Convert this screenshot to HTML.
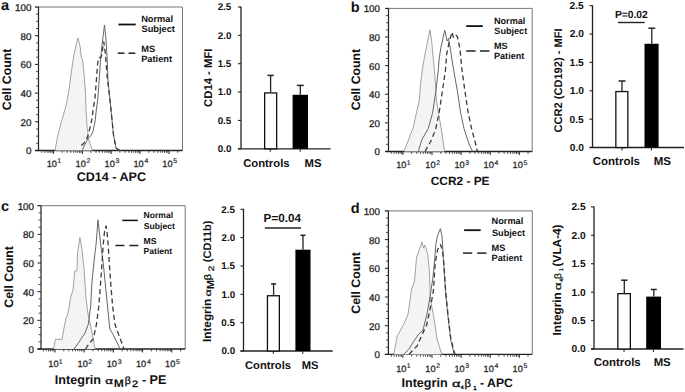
<!DOCTYPE html>
<html><head><meta charset="utf-8"><style>
html,body{margin:0;padding:0;background:#fff;width:685px;height:392px;overflow:hidden}
svg{display:block;font-family:"Liberation Sans",sans-serif;text-rendering:geometricPrecision}
</style></head><body>
<svg width="685" height="392" viewBox="0 0 685 392" font-family="Liberation Sans, sans-serif">
<rect width="685" height="392" fill="#fff"/>
<text x="1.07" y="9.70" font-size="14.6" font-weight="bold" fill="#111" >a</text>
<line x1="35.00" y1="7.00" x2="182.50" y2="7.00" stroke="#777" stroke-width="1" />
<line x1="182.50" y1="7.00" x2="182.50" y2="150.50" stroke="#777" stroke-width="1" />
<line x1="38.50" y1="7.00" x2="38.50" y2="151.10" stroke="#222" stroke-width="1.2" />
<line x1="35.00" y1="150.50" x2="182.50" y2="150.50" stroke="#222" stroke-width="1.3" />
<line x1="35.00" y1="150.50" x2="38.50" y2="150.50" stroke="#222" stroke-width="1" />
<line x1="36.10" y1="143.32" x2="38.50" y2="143.32" stroke="#333" stroke-width="0.9" />
<line x1="36.10" y1="136.15" x2="38.50" y2="136.15" stroke="#333" stroke-width="0.9" />
<line x1="36.10" y1="128.97" x2="38.50" y2="128.97" stroke="#333" stroke-width="0.9" />
<line x1="35.00" y1="121.80" x2="38.50" y2="121.80" stroke="#222" stroke-width="1" />
<line x1="36.10" y1="114.62" x2="38.50" y2="114.62" stroke="#333" stroke-width="0.9" />
<line x1="36.10" y1="107.45" x2="38.50" y2="107.45" stroke="#333" stroke-width="0.9" />
<line x1="36.10" y1="100.28" x2="38.50" y2="100.28" stroke="#333" stroke-width="0.9" />
<line x1="35.00" y1="93.10" x2="38.50" y2="93.10" stroke="#222" stroke-width="1" />
<line x1="36.10" y1="85.92" x2="38.50" y2="85.92" stroke="#333" stroke-width="0.9" />
<line x1="36.10" y1="78.75" x2="38.50" y2="78.75" stroke="#333" stroke-width="0.9" />
<line x1="36.10" y1="71.58" x2="38.50" y2="71.58" stroke="#333" stroke-width="0.9" />
<line x1="35.00" y1="64.40" x2="38.50" y2="64.40" stroke="#222" stroke-width="1" />
<line x1="36.10" y1="57.22" x2="38.50" y2="57.22" stroke="#333" stroke-width="0.9" />
<line x1="36.10" y1="50.05" x2="38.50" y2="50.05" stroke="#333" stroke-width="0.9" />
<line x1="36.10" y1="42.88" x2="38.50" y2="42.88" stroke="#333" stroke-width="0.9" />
<line x1="35.00" y1="35.70" x2="38.50" y2="35.70" stroke="#222" stroke-width="1" />
<line x1="36.10" y1="28.53" x2="38.50" y2="28.53" stroke="#333" stroke-width="0.9" />
<line x1="36.10" y1="21.35" x2="38.50" y2="21.35" stroke="#333" stroke-width="0.9" />
<line x1="36.10" y1="14.18" x2="38.50" y2="14.18" stroke="#333" stroke-width="0.9" />
<line x1="35.00" y1="7.00" x2="38.50" y2="7.00" stroke="#222" stroke-width="1" />
<text x="25.93" y="154.40" font-size="9.8" font-weight="normal" fill="#222" stroke="#2a2a2a" stroke-width="0.3">0</text>
<text x="20.48" y="125.70" font-size="9.8" font-weight="normal" fill="#222" stroke="#2a2a2a" stroke-width="0.3">20</text>
<text x="20.48" y="97.00" font-size="9.8" font-weight="normal" fill="#222" stroke="#2a2a2a" stroke-width="0.3">40</text>
<text x="20.48" y="68.30" font-size="9.8" font-weight="normal" fill="#222" stroke="#2a2a2a" stroke-width="0.3">60</text>
<text x="20.48" y="39.60" font-size="9.8" font-weight="normal" fill="#222" stroke="#2a2a2a" stroke-width="0.3">80</text>
<text x="15.03" y="10.90" font-size="9.8" font-weight="normal" fill="#222" stroke="#2a2a2a" stroke-width="0.3">100</text>
<line x1="41.90" y1="150.50" x2="41.90" y2="152.80" stroke="#333" stroke-width="0.9" />
<line x1="44.70" y1="150.50" x2="44.70" y2="152.80" stroke="#333" stroke-width="0.9" />
<line x1="46.99" y1="150.50" x2="46.99" y2="152.80" stroke="#333" stroke-width="0.9" />
<line x1="48.92" y1="150.50" x2="48.92" y2="152.80" stroke="#333" stroke-width="0.9" />
<line x1="50.60" y1="150.50" x2="50.60" y2="152.80" stroke="#333" stroke-width="0.9" />
<line x1="52.08" y1="150.50" x2="52.08" y2="152.80" stroke="#333" stroke-width="0.9" />
<line x1="53.40" y1="150.50" x2="53.40" y2="154.00" stroke="#222" stroke-width="1" />
<line x1="62.10" y1="150.50" x2="62.10" y2="152.80" stroke="#333" stroke-width="0.9" />
<line x1="67.19" y1="150.50" x2="67.19" y2="152.80" stroke="#333" stroke-width="0.9" />
<line x1="70.80" y1="150.50" x2="70.80" y2="152.80" stroke="#333" stroke-width="0.9" />
<line x1="73.60" y1="150.50" x2="73.60" y2="152.80" stroke="#333" stroke-width="0.9" />
<line x1="75.89" y1="150.50" x2="75.89" y2="152.80" stroke="#333" stroke-width="0.9" />
<line x1="77.82" y1="150.50" x2="77.82" y2="152.80" stroke="#333" stroke-width="0.9" />
<line x1="79.50" y1="150.50" x2="79.50" y2="152.80" stroke="#333" stroke-width="0.9" />
<line x1="80.98" y1="150.50" x2="80.98" y2="152.80" stroke="#333" stroke-width="0.9" />
<line x1="82.30" y1="150.50" x2="82.30" y2="154.00" stroke="#222" stroke-width="1" />
<line x1="91.00" y1="150.50" x2="91.00" y2="152.80" stroke="#333" stroke-width="0.9" />
<line x1="96.09" y1="150.50" x2="96.09" y2="152.80" stroke="#333" stroke-width="0.9" />
<line x1="99.70" y1="150.50" x2="99.70" y2="152.80" stroke="#333" stroke-width="0.9" />
<line x1="102.50" y1="150.50" x2="102.50" y2="152.80" stroke="#333" stroke-width="0.9" />
<line x1="104.79" y1="150.50" x2="104.79" y2="152.80" stroke="#333" stroke-width="0.9" />
<line x1="106.72" y1="150.50" x2="106.72" y2="152.80" stroke="#333" stroke-width="0.9" />
<line x1="108.40" y1="150.50" x2="108.40" y2="152.80" stroke="#333" stroke-width="0.9" />
<line x1="109.88" y1="150.50" x2="109.88" y2="152.80" stroke="#333" stroke-width="0.9" />
<line x1="111.20" y1="150.50" x2="111.20" y2="154.00" stroke="#222" stroke-width="1" />
<line x1="119.90" y1="150.50" x2="119.90" y2="152.80" stroke="#333" stroke-width="0.9" />
<line x1="124.99" y1="150.50" x2="124.99" y2="152.80" stroke="#333" stroke-width="0.9" />
<line x1="128.60" y1="150.50" x2="128.60" y2="152.80" stroke="#333" stroke-width="0.9" />
<line x1="131.40" y1="150.50" x2="131.40" y2="152.80" stroke="#333" stroke-width="0.9" />
<line x1="133.69" y1="150.50" x2="133.69" y2="152.80" stroke="#333" stroke-width="0.9" />
<line x1="135.62" y1="150.50" x2="135.62" y2="152.80" stroke="#333" stroke-width="0.9" />
<line x1="137.30" y1="150.50" x2="137.30" y2="152.80" stroke="#333" stroke-width="0.9" />
<line x1="138.78" y1="150.50" x2="138.78" y2="152.80" stroke="#333" stroke-width="0.9" />
<line x1="140.10" y1="150.50" x2="140.10" y2="154.00" stroke="#222" stroke-width="1" />
<line x1="148.80" y1="150.50" x2="148.80" y2="152.80" stroke="#333" stroke-width="0.9" />
<line x1="153.89" y1="150.50" x2="153.89" y2="152.80" stroke="#333" stroke-width="0.9" />
<line x1="157.50" y1="150.50" x2="157.50" y2="152.80" stroke="#333" stroke-width="0.9" />
<line x1="160.30" y1="150.50" x2="160.30" y2="152.80" stroke="#333" stroke-width="0.9" />
<line x1="162.59" y1="150.50" x2="162.59" y2="152.80" stroke="#333" stroke-width="0.9" />
<line x1="164.52" y1="150.50" x2="164.52" y2="152.80" stroke="#333" stroke-width="0.9" />
<line x1="166.20" y1="150.50" x2="166.20" y2="152.80" stroke="#333" stroke-width="0.9" />
<line x1="167.68" y1="150.50" x2="167.68" y2="152.80" stroke="#333" stroke-width="0.9" />
<line x1="169.00" y1="150.50" x2="169.00" y2="154.00" stroke="#222" stroke-width="1" />
<line x1="177.70" y1="150.50" x2="177.70" y2="152.80" stroke="#333" stroke-width="0.9" />
<text x="46.72" y="166.80" font-size="9.2" font-weight="normal" fill="#2a2a2a" stroke="#2a2a2a" stroke-width="0.3">10</text>
<text x="57.23" y="163.30" font-size="6.9" font-weight="normal" fill="#2a2a2a" stroke="#2a2a2a" stroke-width="0.2">1</text>
<text x="75.62" y="166.80" font-size="9.2" font-weight="normal" fill="#2a2a2a" stroke="#2a2a2a" stroke-width="0.3">10</text>
<text x="86.45" y="163.30" font-size="6.9" font-weight="normal" fill="#2a2a2a" stroke="#2a2a2a" stroke-width="0.2">2</text>
<text x="104.52" y="166.80" font-size="9.2" font-weight="normal" fill="#2a2a2a" stroke="#2a2a2a" stroke-width="0.3">10</text>
<text x="115.43" y="163.30" font-size="6.9" font-weight="normal" fill="#2a2a2a" stroke="#2a2a2a" stroke-width="0.2">3</text>
<text x="133.42" y="166.80" font-size="9.2" font-weight="normal" fill="#2a2a2a" stroke="#2a2a2a" stroke-width="0.3">10</text>
<text x="144.44" y="163.30" font-size="6.9" font-weight="normal" fill="#2a2a2a" stroke="#2a2a2a" stroke-width="0.2">4</text>
<text x="162.32" y="166.80" font-size="9.2" font-weight="normal" fill="#2a2a2a" stroke="#2a2a2a" stroke-width="0.3">10</text>
<text x="173.22" y="163.30" font-size="6.9" font-weight="normal" fill="#2a2a2a" stroke="#2a2a2a" stroke-width="0.2">5</text>
<polyline points="55.0,150.5 57.4,137.5 61.4,121.6 66.0,105.8 69.0,90.0 71.4,71.3 73.7,56.0 76.0,45.3 77.9,38.0 79.9,45.3 81.4,57.6 82.2,59.1 82.9,62.2 84.5,80.0 85.5,92.0 86.0,110.0 87.1,127.0 88.8,140.0 92.5,150.5" fill="#f4f4f4" stroke="#8c8c8c" stroke-width="0.8" stroke-linejoin="round" />
<polyline points="82.3,150.5 83.9,146.4 86.1,142.1 88.2,138.4 90.9,135.7 93.0,131.4 95.2,120.7 96.3,110.0 97.9,98.0 98.8,85.0 100.5,60.0 102.0,45.0 104.5,25.0 106.0,40.0 107.2,60.0 108.0,80.0 109.8,98.4 111.7,116.8 113.5,135.0 116.0,148.0 118.0,150.0 121.0,150.5" fill="none" stroke="#666" stroke-width="1.0" stroke-linejoin="round" />
<polyline points="81.3,145.4 83.9,143.2 86.1,140.6 88.2,134.7 90.9,124.0 92.4,116.8 93.0,110.0 95.0,98.0 96.4,80.0 97.5,65.0 98.4,58.0 101.4,57.0 102.5,50.0 103.8,41.8 105.5,55.0 107.0,75.0 108.2,85.0 109.8,98.4 111.7,116.8 113.5,135.0 116.0,148.0 120.0,150.5" fill="none" stroke="#3a3a3a" stroke-width="1.3" stroke-linejoin="round" stroke-dasharray="5,3.3"/>
<text x="141.18" y="21.90" font-size="9.25" font-weight="bold" fill="#111" >Normal</text>
<text x="141.53" y="32.20" font-size="9.25" font-weight="bold" fill="#111" >Subject</text>
<text x="141.18" y="51.70" font-size="9.25" font-weight="bold" fill="#111" >MS</text>
<text x="141.18" y="62.00" font-size="9.25" font-weight="bold" fill="#111" >Patient</text>
<line x1="118.40" y1="24.50" x2="135.70" y2="24.50" stroke="#111" stroke-width="1.8" />
<line x1="117.70" y1="53.20" x2="124.50" y2="53.20" stroke="#222" stroke-width="1.5" />
<line x1="128.50" y1="53.20" x2="135.30" y2="53.20" stroke="#222" stroke-width="1.5" />
<text transform="translate(11.00,79.30) rotate(-90)" x="-30.92" y="0" font-size="12.3" font-weight="bold" fill="#111">Cell Count</text>
<text x="76.69" y="181.20" font-size="12.55" font-weight="bold" fill="#111" >CD14 - APC</text>
<line x1="241.00" y1="6.50" x2="241.00" y2="148.80" stroke="#222" stroke-width="1.3" />
<line x1="238.00" y1="148.80" x2="330.60" y2="148.80" stroke="#222" stroke-width="1.3" />
<line x1="238.00" y1="148.80" x2="241.00" y2="148.80" stroke="#222" stroke-width="1.1" />
<text x="217.78" y="152.20" font-size="9.8" font-weight="bold" fill="#111" >0.0</text>
<line x1="238.00" y1="120.44" x2="241.00" y2="120.44" stroke="#222" stroke-width="1.1" />
<text x="217.65" y="123.84" font-size="9.8" font-weight="bold" fill="#111" >0.5</text>
<line x1="238.00" y1="92.08" x2="241.00" y2="92.08" stroke="#222" stroke-width="1.1" />
<text x="217.78" y="95.48" font-size="9.8" font-weight="bold" fill="#111" >1.0</text>
<line x1="238.00" y1="63.72" x2="241.00" y2="63.72" stroke="#222" stroke-width="1.1" />
<text x="217.65" y="67.12" font-size="9.8" font-weight="bold" fill="#111" >1.5</text>
<line x1="238.00" y1="35.36" x2="241.00" y2="35.36" stroke="#222" stroke-width="1.1" />
<text x="217.78" y="38.76" font-size="9.8" font-weight="bold" fill="#111" >2.0</text>
<line x1="238.00" y1="7.00" x2="241.00" y2="7.00" stroke="#222" stroke-width="1.1" />
<text x="217.65" y="10.40" font-size="9.8" font-weight="bold" fill="#111" >2.5</text>
<rect x="264.65" y="92.95" width="12.00" height="55.85" fill="#fff" stroke="#111" stroke-width="1.3"/>
<rect x="292.60" y="94.80" width="15.40" height="54.00" fill="#000"/>
<line x1="270.60" y1="92.30" x2="270.60" y2="75.40" stroke="#222" stroke-width="1.3" />
<line x1="267.50" y1="75.40" x2="273.70" y2="75.40" stroke="#222" stroke-width="1.5" />
<line x1="300.30" y1="94.80" x2="300.30" y2="85.40" stroke="#222" stroke-width="1.3" />
<line x1="296.85" y1="85.40" x2="303.75" y2="85.40" stroke="#222" stroke-width="1.5" />
<line x1="270.30" y1="148.80" x2="270.30" y2="151.80" stroke="#222" stroke-width="1" />
<line x1="300.20" y1="148.80" x2="300.20" y2="151.80" stroke="#222" stroke-width="1" />
<text x="243.14" y="166.60" font-size="11.3" font-weight="bold" fill="#111" >Controls</text>
<text x="304.54" y="166.60" font-size="11.3" font-weight="bold" fill="#111" >MS</text>
<text transform="translate(212.00,77.85) rotate(-90)" x="-29.05" y="0" font-size="11.3" font-weight="bold" fill="#111">CD14 - MFI</text>
<text x="350.74" y="12.00" font-size="14.6" font-weight="bold" fill="#111" >b</text>
<line x1="385.00" y1="8.40" x2="532.20" y2="8.40" stroke="#777" stroke-width="1" />
<line x1="532.20" y1="8.40" x2="532.20" y2="151.50" stroke="#777" stroke-width="1" />
<line x1="388.50" y1="8.40" x2="388.50" y2="152.10" stroke="#222" stroke-width="1.2" />
<line x1="385.00" y1="151.50" x2="532.20" y2="151.50" stroke="#222" stroke-width="1.3" />
<line x1="385.00" y1="151.50" x2="388.50" y2="151.50" stroke="#222" stroke-width="1" />
<line x1="386.10" y1="144.34" x2="388.50" y2="144.34" stroke="#333" stroke-width="0.9" />
<line x1="386.10" y1="137.19" x2="388.50" y2="137.19" stroke="#333" stroke-width="0.9" />
<line x1="386.10" y1="130.03" x2="388.50" y2="130.03" stroke="#333" stroke-width="0.9" />
<line x1="385.00" y1="122.88" x2="388.50" y2="122.88" stroke="#222" stroke-width="1" />
<line x1="386.10" y1="115.72" x2="388.50" y2="115.72" stroke="#333" stroke-width="0.9" />
<line x1="386.10" y1="108.57" x2="388.50" y2="108.57" stroke="#333" stroke-width="0.9" />
<line x1="386.10" y1="101.41" x2="388.50" y2="101.41" stroke="#333" stroke-width="0.9" />
<line x1="385.00" y1="94.26" x2="388.50" y2="94.26" stroke="#222" stroke-width="1" />
<line x1="386.10" y1="87.11" x2="388.50" y2="87.11" stroke="#333" stroke-width="0.9" />
<line x1="386.10" y1="79.95" x2="388.50" y2="79.95" stroke="#333" stroke-width="0.9" />
<line x1="386.10" y1="72.80" x2="388.50" y2="72.80" stroke="#333" stroke-width="0.9" />
<line x1="385.00" y1="65.64" x2="388.50" y2="65.64" stroke="#222" stroke-width="1" />
<line x1="386.10" y1="58.48" x2="388.50" y2="58.48" stroke="#333" stroke-width="0.9" />
<line x1="386.10" y1="51.33" x2="388.50" y2="51.33" stroke="#333" stroke-width="0.9" />
<line x1="386.10" y1="44.17" x2="388.50" y2="44.17" stroke="#333" stroke-width="0.9" />
<line x1="385.00" y1="37.02" x2="388.50" y2="37.02" stroke="#222" stroke-width="1" />
<line x1="386.10" y1="29.86" x2="388.50" y2="29.86" stroke="#333" stroke-width="0.9" />
<line x1="386.10" y1="22.71" x2="388.50" y2="22.71" stroke="#333" stroke-width="0.9" />
<line x1="386.10" y1="15.56" x2="388.50" y2="15.56" stroke="#333" stroke-width="0.9" />
<line x1="385.00" y1="8.40" x2="388.50" y2="8.40" stroke="#222" stroke-width="1" />
<text x="374.53" y="155.40" font-size="9.8" font-weight="normal" fill="#222" stroke="#2a2a2a" stroke-width="0.3">0</text>
<text x="369.08" y="126.78" font-size="9.8" font-weight="normal" fill="#222" stroke="#2a2a2a" stroke-width="0.3">20</text>
<text x="369.08" y="98.16" font-size="9.8" font-weight="normal" fill="#222" stroke="#2a2a2a" stroke-width="0.3">40</text>
<text x="369.08" y="69.54" font-size="9.8" font-weight="normal" fill="#222" stroke="#2a2a2a" stroke-width="0.3">60</text>
<text x="369.08" y="40.92" font-size="9.8" font-weight="normal" fill="#222" stroke="#2a2a2a" stroke-width="0.3">80</text>
<text x="363.63" y="12.30" font-size="9.8" font-weight="normal" fill="#222" stroke="#2a2a2a" stroke-width="0.3">100</text>
<line x1="391.32" y1="151.50" x2="391.32" y2="153.80" stroke="#333" stroke-width="0.9" />
<line x1="394.14" y1="151.50" x2="394.14" y2="153.80" stroke="#333" stroke-width="0.9" />
<line x1="396.44" y1="151.50" x2="396.44" y2="153.80" stroke="#333" stroke-width="0.9" />
<line x1="398.39" y1="151.50" x2="398.39" y2="153.80" stroke="#333" stroke-width="0.9" />
<line x1="400.08" y1="151.50" x2="400.08" y2="153.80" stroke="#333" stroke-width="0.9" />
<line x1="401.57" y1="151.50" x2="401.57" y2="153.80" stroke="#333" stroke-width="0.9" />
<line x1="402.90" y1="151.50" x2="402.90" y2="155.00" stroke="#222" stroke-width="1" />
<line x1="411.66" y1="151.50" x2="411.66" y2="153.80" stroke="#333" stroke-width="0.9" />
<line x1="416.78" y1="151.50" x2="416.78" y2="153.80" stroke="#333" stroke-width="0.9" />
<line x1="420.42" y1="151.50" x2="420.42" y2="153.80" stroke="#333" stroke-width="0.9" />
<line x1="423.24" y1="151.50" x2="423.24" y2="153.80" stroke="#333" stroke-width="0.9" />
<line x1="425.54" y1="151.50" x2="425.54" y2="153.80" stroke="#333" stroke-width="0.9" />
<line x1="427.49" y1="151.50" x2="427.49" y2="153.80" stroke="#333" stroke-width="0.9" />
<line x1="429.18" y1="151.50" x2="429.18" y2="153.80" stroke="#333" stroke-width="0.9" />
<line x1="430.67" y1="151.50" x2="430.67" y2="153.80" stroke="#333" stroke-width="0.9" />
<line x1="432.00" y1="151.50" x2="432.00" y2="155.00" stroke="#222" stroke-width="1" />
<line x1="440.76" y1="151.50" x2="440.76" y2="153.80" stroke="#333" stroke-width="0.9" />
<line x1="445.88" y1="151.50" x2="445.88" y2="153.80" stroke="#333" stroke-width="0.9" />
<line x1="449.52" y1="151.50" x2="449.52" y2="153.80" stroke="#333" stroke-width="0.9" />
<line x1="452.34" y1="151.50" x2="452.34" y2="153.80" stroke="#333" stroke-width="0.9" />
<line x1="454.64" y1="151.50" x2="454.64" y2="153.80" stroke="#333" stroke-width="0.9" />
<line x1="456.59" y1="151.50" x2="456.59" y2="153.80" stroke="#333" stroke-width="0.9" />
<line x1="458.28" y1="151.50" x2="458.28" y2="153.80" stroke="#333" stroke-width="0.9" />
<line x1="459.77" y1="151.50" x2="459.77" y2="153.80" stroke="#333" stroke-width="0.9" />
<line x1="461.10" y1="151.50" x2="461.10" y2="155.00" stroke="#222" stroke-width="1" />
<line x1="469.86" y1="151.50" x2="469.86" y2="153.80" stroke="#333" stroke-width="0.9" />
<line x1="474.98" y1="151.50" x2="474.98" y2="153.80" stroke="#333" stroke-width="0.9" />
<line x1="478.62" y1="151.50" x2="478.62" y2="153.80" stroke="#333" stroke-width="0.9" />
<line x1="481.44" y1="151.50" x2="481.44" y2="153.80" stroke="#333" stroke-width="0.9" />
<line x1="483.74" y1="151.50" x2="483.74" y2="153.80" stroke="#333" stroke-width="0.9" />
<line x1="485.69" y1="151.50" x2="485.69" y2="153.80" stroke="#333" stroke-width="0.9" />
<line x1="487.38" y1="151.50" x2="487.38" y2="153.80" stroke="#333" stroke-width="0.9" />
<line x1="488.87" y1="151.50" x2="488.87" y2="153.80" stroke="#333" stroke-width="0.9" />
<line x1="490.20" y1="151.50" x2="490.20" y2="155.00" stroke="#222" stroke-width="1" />
<line x1="498.96" y1="151.50" x2="498.96" y2="153.80" stroke="#333" stroke-width="0.9" />
<line x1="504.08" y1="151.50" x2="504.08" y2="153.80" stroke="#333" stroke-width="0.9" />
<line x1="507.72" y1="151.50" x2="507.72" y2="153.80" stroke="#333" stroke-width="0.9" />
<line x1="510.54" y1="151.50" x2="510.54" y2="153.80" stroke="#333" stroke-width="0.9" />
<line x1="512.84" y1="151.50" x2="512.84" y2="153.80" stroke="#333" stroke-width="0.9" />
<line x1="514.79" y1="151.50" x2="514.79" y2="153.80" stroke="#333" stroke-width="0.9" />
<line x1="516.48" y1="151.50" x2="516.48" y2="153.80" stroke="#333" stroke-width="0.9" />
<line x1="517.97" y1="151.50" x2="517.97" y2="153.80" stroke="#333" stroke-width="0.9" />
<line x1="519.30" y1="151.50" x2="519.30" y2="155.00" stroke="#222" stroke-width="1" />
<line x1="528.06" y1="151.50" x2="528.06" y2="153.80" stroke="#333" stroke-width="0.9" />
<text x="396.22" y="168.00" font-size="9.2" font-weight="normal" fill="#2a2a2a" stroke="#2a2a2a" stroke-width="0.3">10</text>
<text x="406.73" y="164.50" font-size="6.9" font-weight="normal" fill="#2a2a2a" stroke="#2a2a2a" stroke-width="0.2">1</text>
<text x="425.32" y="168.00" font-size="9.2" font-weight="normal" fill="#2a2a2a" stroke="#2a2a2a" stroke-width="0.3">10</text>
<text x="436.15" y="164.50" font-size="6.9" font-weight="normal" fill="#2a2a2a" stroke="#2a2a2a" stroke-width="0.2">2</text>
<text x="454.42" y="168.00" font-size="9.2" font-weight="normal" fill="#2a2a2a" stroke="#2a2a2a" stroke-width="0.3">10</text>
<text x="465.33" y="164.50" font-size="6.9" font-weight="normal" fill="#2a2a2a" stroke="#2a2a2a" stroke-width="0.2">3</text>
<text x="483.52" y="168.00" font-size="9.2" font-weight="normal" fill="#2a2a2a" stroke="#2a2a2a" stroke-width="0.3">10</text>
<text x="494.54" y="164.50" font-size="6.9" font-weight="normal" fill="#2a2a2a" stroke="#2a2a2a" stroke-width="0.2">4</text>
<text x="512.62" y="168.00" font-size="9.2" font-weight="normal" fill="#2a2a2a" stroke="#2a2a2a" stroke-width="0.3">10</text>
<text x="523.52" y="164.50" font-size="6.9" font-weight="normal" fill="#2a2a2a" stroke="#2a2a2a" stroke-width="0.2">5</text>
<polyline points="404.0,151.5 406.5,145.0 408.5,140.0 411.0,133.0 413.0,128.6 416.3,113.4 419.4,100.0 420.4,85.3 422.4,69.0 424.5,56.7 426.5,46.5 430.0,29.8 431.6,40.4 433.3,58.8 434.7,73.0 435.5,85.0 436.3,100.0 438.6,113.4 441.2,128.6 444.5,151.5" fill="#f4f4f4" stroke="#8c8c8c" stroke-width="0.8" stroke-linejoin="round" />
<polyline points="418.4,151.5 421.7,140.0 428.2,128.6 432.5,113.4 435.8,91.7 438.3,70.0 439.2,58.3 440.8,48.0 442.8,39.0 444.7,30.2 447.2,41.0 448.5,38.5 450.4,49.3 452.3,62.0 454.0,72.0 457.5,91.7 460.7,113.4 464.0,128.6 469.4,145.0 472.7,151.5" fill="none" stroke="#666" stroke-width="1.0" stroke-linejoin="round" />
<polyline points="425.0,151.5 431.5,140.0 435.8,128.6 439.0,113.4 442.3,91.7 445.5,70.0 446.6,54.4 449.0,43.0 452.0,32.0 453.6,37.9 456.0,35.3 457.4,36.6 460.0,49.3 462.0,70.0 465.0,91.7 468.3,113.4 471.6,128.6 475.9,145.0 477.4,151.5" fill="none" stroke="#3a3a3a" stroke-width="1.3" stroke-linejoin="round" stroke-dasharray="5,3.3"/>
<text x="493.99" y="24.00" font-size="9.1" font-weight="bold" fill="#111" >Normal</text>
<text x="494.34" y="34.10" font-size="9.1" font-weight="bold" fill="#111" >Subject</text>
<text x="493.99" y="49.00" font-size="9.1" font-weight="bold" fill="#111" >MS</text>
<text x="493.99" y="59.40" font-size="9.1" font-weight="bold" fill="#111" >Patient</text>
<line x1="466.20" y1="26.10" x2="482.80" y2="26.10" stroke="#111" stroke-width="1.8" />
<line x1="466.20" y1="51.00" x2="475.65" y2="51.00" stroke="#222" stroke-width="1.5" />
<line x1="479.95" y1="51.00" x2="489.40" y2="51.00" stroke="#222" stroke-width="1.5" />
<text transform="translate(359.60,79.40) rotate(-90)" x="-30.92" y="0" font-size="12.3" font-weight="bold" fill="#111">Cell Count</text>
<text x="430.71" y="184.80" font-size="11.9" font-weight="bold" fill="#111" >CCR2 - PE</text>
<line x1="592.50" y1="5.20" x2="592.50" y2="147.50" stroke="#222" stroke-width="1.3" />
<line x1="589.50" y1="147.50" x2="684.00" y2="147.50" stroke="#222" stroke-width="1.3" />
<line x1="589.50" y1="147.50" x2="592.50" y2="147.50" stroke="#222" stroke-width="1.1" />
<text x="569.74" y="150.90" font-size="10.2" font-weight="bold" fill="#111" >0.0</text>
<line x1="589.50" y1="119.14" x2="592.50" y2="119.14" stroke="#222" stroke-width="1.1" />
<text x="569.60" y="122.54" font-size="10.2" font-weight="bold" fill="#111" >0.5</text>
<line x1="589.50" y1="90.78" x2="592.50" y2="90.78" stroke="#222" stroke-width="1.1" />
<text x="569.74" y="94.18" font-size="10.2" font-weight="bold" fill="#111" >1.0</text>
<line x1="589.50" y1="62.42" x2="592.50" y2="62.42" stroke="#222" stroke-width="1.1" />
<text x="569.60" y="65.82" font-size="10.2" font-weight="bold" fill="#111" >1.5</text>
<line x1="589.50" y1="34.06" x2="592.50" y2="34.06" stroke="#222" stroke-width="1.1" />
<text x="569.74" y="37.46" font-size="10.2" font-weight="bold" fill="#111" >2.0</text>
<line x1="589.50" y1="5.70" x2="592.50" y2="5.70" stroke="#222" stroke-width="1.1" />
<text x="569.60" y="9.10" font-size="10.2" font-weight="bold" fill="#111" >2.5</text>
<rect x="615.85" y="91.55" width="12.00" height="55.95" fill="#fff" stroke="#111" stroke-width="1.3"/>
<rect x="644.50" y="43.75" width="14.10" height="103.75" fill="#000"/>
<line x1="622.00" y1="90.90" x2="622.00" y2="81.00" stroke="#222" stroke-width="1.3" />
<line x1="618.50" y1="81.00" x2="625.50" y2="81.00" stroke="#222" stroke-width="1.5" />
<line x1="651.80" y1="43.75" x2="651.80" y2="28.20" stroke="#222" stroke-width="1.3" />
<line x1="648.40" y1="28.20" x2="655.20" y2="28.20" stroke="#222" stroke-width="1.5" />
<line x1="622.00" y1="147.50" x2="622.00" y2="150.50" stroke="#222" stroke-width="1" />
<line x1="651.40" y1="147.50" x2="651.40" y2="150.50" stroke="#222" stroke-width="1" />
<text x="592.73" y="164.80" font-size="11.5" font-weight="bold" fill="#111" >Controls</text>
<text x="653.63" y="164.80" font-size="11.5" font-weight="bold" fill="#111" >MS</text>
<text transform="translate(561.70,80.60) rotate(-90)" x="-51.97" y="0" font-size="11.1" font-weight="bold" fill="#111">CCR2 (CD192) - MFI</text>
<text x="614.91" y="17.80" font-size="10.3" font-weight="bold" fill="#111" >P=0.02</text>
<line x1="617.90" y1="22.50" x2="644.60" y2="22.50" stroke="#222" stroke-width="1.4" />
<text x="1.03" y="210.50" font-size="14.6" font-weight="bold" fill="#111" >c</text>
<line x1="37.50" y1="205.70" x2="185.20" y2="205.70" stroke="#777" stroke-width="1" />
<line x1="185.20" y1="205.70" x2="185.20" y2="349.00" stroke="#777" stroke-width="1" />
<line x1="41.00" y1="205.70" x2="41.00" y2="349.60" stroke="#222" stroke-width="1.2" />
<line x1="37.50" y1="349.00" x2="185.20" y2="349.00" stroke="#222" stroke-width="1.3" />
<line x1="37.50" y1="349.00" x2="41.00" y2="349.00" stroke="#222" stroke-width="1" />
<line x1="38.60" y1="341.83" x2="41.00" y2="341.83" stroke="#333" stroke-width="0.9" />
<line x1="38.60" y1="334.67" x2="41.00" y2="334.67" stroke="#333" stroke-width="0.9" />
<line x1="38.60" y1="327.50" x2="41.00" y2="327.50" stroke="#333" stroke-width="0.9" />
<line x1="37.50" y1="320.34" x2="41.00" y2="320.34" stroke="#222" stroke-width="1" />
<line x1="38.60" y1="313.18" x2="41.00" y2="313.18" stroke="#333" stroke-width="0.9" />
<line x1="38.60" y1="306.01" x2="41.00" y2="306.01" stroke="#333" stroke-width="0.9" />
<line x1="38.60" y1="298.85" x2="41.00" y2="298.85" stroke="#333" stroke-width="0.9" />
<line x1="37.50" y1="291.68" x2="41.00" y2="291.68" stroke="#222" stroke-width="1" />
<line x1="38.60" y1="284.51" x2="41.00" y2="284.51" stroke="#333" stroke-width="0.9" />
<line x1="38.60" y1="277.35" x2="41.00" y2="277.35" stroke="#333" stroke-width="0.9" />
<line x1="38.60" y1="270.19" x2="41.00" y2="270.19" stroke="#333" stroke-width="0.9" />
<line x1="37.50" y1="263.02" x2="41.00" y2="263.02" stroke="#222" stroke-width="1" />
<line x1="38.60" y1="255.86" x2="41.00" y2="255.86" stroke="#333" stroke-width="0.9" />
<line x1="38.60" y1="248.69" x2="41.00" y2="248.69" stroke="#333" stroke-width="0.9" />
<line x1="38.60" y1="241.53" x2="41.00" y2="241.53" stroke="#333" stroke-width="0.9" />
<line x1="37.50" y1="234.36" x2="41.00" y2="234.36" stroke="#222" stroke-width="1" />
<line x1="38.60" y1="227.19" x2="41.00" y2="227.19" stroke="#333" stroke-width="0.9" />
<line x1="38.60" y1="220.03" x2="41.00" y2="220.03" stroke="#333" stroke-width="0.9" />
<line x1="38.60" y1="212.86" x2="41.00" y2="212.86" stroke="#333" stroke-width="0.9" />
<line x1="37.50" y1="205.70" x2="41.00" y2="205.70" stroke="#222" stroke-width="1" />
<text x="28.53" y="352.90" font-size="9.8" font-weight="normal" fill="#222" stroke="#2a2a2a" stroke-width="0.3">0</text>
<text x="23.08" y="324.24" font-size="9.8" font-weight="normal" fill="#222" stroke="#2a2a2a" stroke-width="0.3">20</text>
<text x="23.08" y="295.58" font-size="9.8" font-weight="normal" fill="#222" stroke="#2a2a2a" stroke-width="0.3">40</text>
<text x="23.08" y="266.92" font-size="9.8" font-weight="normal" fill="#222" stroke="#2a2a2a" stroke-width="0.3">60</text>
<text x="23.08" y="238.26" font-size="9.8" font-weight="normal" fill="#222" stroke="#2a2a2a" stroke-width="0.3">80</text>
<text x="17.63" y="209.60" font-size="9.8" font-weight="normal" fill="#222" stroke="#2a2a2a" stroke-width="0.3">100</text>
<line x1="43.38" y1="349.00" x2="43.38" y2="351.30" stroke="#333" stroke-width="0.9" />
<line x1="46.21" y1="349.00" x2="46.21" y2="351.30" stroke="#333" stroke-width="0.9" />
<line x1="48.52" y1="349.00" x2="48.52" y2="351.30" stroke="#333" stroke-width="0.9" />
<line x1="50.48" y1="349.00" x2="50.48" y2="351.30" stroke="#333" stroke-width="0.9" />
<line x1="52.17" y1="349.00" x2="52.17" y2="351.30" stroke="#333" stroke-width="0.9" />
<line x1="53.66" y1="349.00" x2="53.66" y2="351.30" stroke="#333" stroke-width="0.9" />
<line x1="55.00" y1="349.00" x2="55.00" y2="352.50" stroke="#222" stroke-width="1" />
<line x1="63.79" y1="349.00" x2="63.79" y2="351.30" stroke="#333" stroke-width="0.9" />
<line x1="68.93" y1="349.00" x2="68.93" y2="351.30" stroke="#333" stroke-width="0.9" />
<line x1="72.58" y1="349.00" x2="72.58" y2="351.30" stroke="#333" stroke-width="0.9" />
<line x1="75.41" y1="349.00" x2="75.41" y2="351.30" stroke="#333" stroke-width="0.9" />
<line x1="77.72" y1="349.00" x2="77.72" y2="351.30" stroke="#333" stroke-width="0.9" />
<line x1="79.68" y1="349.00" x2="79.68" y2="351.30" stroke="#333" stroke-width="0.9" />
<line x1="81.37" y1="349.00" x2="81.37" y2="351.30" stroke="#333" stroke-width="0.9" />
<line x1="82.86" y1="349.00" x2="82.86" y2="351.30" stroke="#333" stroke-width="0.9" />
<line x1="84.20" y1="349.00" x2="84.20" y2="352.50" stroke="#222" stroke-width="1" />
<line x1="92.99" y1="349.00" x2="92.99" y2="351.30" stroke="#333" stroke-width="0.9" />
<line x1="98.13" y1="349.00" x2="98.13" y2="351.30" stroke="#333" stroke-width="0.9" />
<line x1="101.78" y1="349.00" x2="101.78" y2="351.30" stroke="#333" stroke-width="0.9" />
<line x1="104.61" y1="349.00" x2="104.61" y2="351.30" stroke="#333" stroke-width="0.9" />
<line x1="106.92" y1="349.00" x2="106.92" y2="351.30" stroke="#333" stroke-width="0.9" />
<line x1="108.88" y1="349.00" x2="108.88" y2="351.30" stroke="#333" stroke-width="0.9" />
<line x1="110.57" y1="349.00" x2="110.57" y2="351.30" stroke="#333" stroke-width="0.9" />
<line x1="112.06" y1="349.00" x2="112.06" y2="351.30" stroke="#333" stroke-width="0.9" />
<line x1="113.40" y1="349.00" x2="113.40" y2="352.50" stroke="#222" stroke-width="1" />
<line x1="122.19" y1="349.00" x2="122.19" y2="351.30" stroke="#333" stroke-width="0.9" />
<line x1="127.33" y1="349.00" x2="127.33" y2="351.30" stroke="#333" stroke-width="0.9" />
<line x1="130.98" y1="349.00" x2="130.98" y2="351.30" stroke="#333" stroke-width="0.9" />
<line x1="133.81" y1="349.00" x2="133.81" y2="351.30" stroke="#333" stroke-width="0.9" />
<line x1="136.12" y1="349.00" x2="136.12" y2="351.30" stroke="#333" stroke-width="0.9" />
<line x1="138.08" y1="349.00" x2="138.08" y2="351.30" stroke="#333" stroke-width="0.9" />
<line x1="139.77" y1="349.00" x2="139.77" y2="351.30" stroke="#333" stroke-width="0.9" />
<line x1="141.26" y1="349.00" x2="141.26" y2="351.30" stroke="#333" stroke-width="0.9" />
<line x1="142.60" y1="349.00" x2="142.60" y2="352.50" stroke="#222" stroke-width="1" />
<line x1="151.39" y1="349.00" x2="151.39" y2="351.30" stroke="#333" stroke-width="0.9" />
<line x1="156.53" y1="349.00" x2="156.53" y2="351.30" stroke="#333" stroke-width="0.9" />
<line x1="160.18" y1="349.00" x2="160.18" y2="351.30" stroke="#333" stroke-width="0.9" />
<line x1="163.01" y1="349.00" x2="163.01" y2="351.30" stroke="#333" stroke-width="0.9" />
<line x1="165.32" y1="349.00" x2="165.32" y2="351.30" stroke="#333" stroke-width="0.9" />
<line x1="167.28" y1="349.00" x2="167.28" y2="351.30" stroke="#333" stroke-width="0.9" />
<line x1="168.97" y1="349.00" x2="168.97" y2="351.30" stroke="#333" stroke-width="0.9" />
<line x1="170.46" y1="349.00" x2="170.46" y2="351.30" stroke="#333" stroke-width="0.9" />
<line x1="171.80" y1="349.00" x2="171.80" y2="352.50" stroke="#222" stroke-width="1" />
<line x1="180.59" y1="349.00" x2="180.59" y2="351.30" stroke="#333" stroke-width="0.9" />
<text x="48.32" y="367.30" font-size="9.2" font-weight="normal" fill="#2a2a2a" stroke="#2a2a2a" stroke-width="0.3">10</text>
<text x="58.83" y="363.80" font-size="6.9" font-weight="normal" fill="#2a2a2a" stroke="#2a2a2a" stroke-width="0.2">1</text>
<text x="77.52" y="367.30" font-size="9.2" font-weight="normal" fill="#2a2a2a" stroke="#2a2a2a" stroke-width="0.3">10</text>
<text x="88.35" y="363.80" font-size="6.9" font-weight="normal" fill="#2a2a2a" stroke="#2a2a2a" stroke-width="0.2">2</text>
<text x="106.72" y="367.30" font-size="9.2" font-weight="normal" fill="#2a2a2a" stroke="#2a2a2a" stroke-width="0.3">10</text>
<text x="117.63" y="363.80" font-size="6.9" font-weight="normal" fill="#2a2a2a" stroke="#2a2a2a" stroke-width="0.2">3</text>
<text x="135.92" y="367.30" font-size="9.2" font-weight="normal" fill="#2a2a2a" stroke="#2a2a2a" stroke-width="0.3">10</text>
<text x="146.94" y="363.80" font-size="6.9" font-weight="normal" fill="#2a2a2a" stroke="#2a2a2a" stroke-width="0.2">4</text>
<text x="165.12" y="367.30" font-size="9.2" font-weight="normal" fill="#2a2a2a" stroke="#2a2a2a" stroke-width="0.3">10</text>
<text x="176.02" y="363.80" font-size="6.9" font-weight="normal" fill="#2a2a2a" stroke="#2a2a2a" stroke-width="0.2">5</text>
<polyline points="53.5,349.0 55.4,339.3 62.1,339.3 64.0,328.0 66.0,318.0 67.5,315.0 69.5,305.0 70.3,298.4 73.0,290.0 74.0,280.0 74.6,271.3 76.9,270.6 77.5,253.0 79.9,237.4 81.8,248.4 84.0,268.3 84.8,280.0 86.0,298.4 88.2,315.0 91.5,330.0 95.1,349.0" fill="#f4f4f4" stroke="#8c8c8c" stroke-width="0.8" stroke-linejoin="round" />
<polyline points="74.0,349.0 79.0,342.0 85.0,333.0 88.4,324.0 90.7,306.0 91.9,283.0 94.2,260.0 96.0,244.8 98.0,219.8 100.7,244.8 102.9,260.0 105.2,283.0 107.5,306.0 109.8,329.0 112.6,333.5 117.1,342.7 120.0,349.0" fill="none" stroke="#666" stroke-width="1.0" stroke-linejoin="round" />
<polyline points="85.5,349.0 88.6,344.3 93.3,338.8 96.5,324.0 98.8,306.0 100.6,283.0 102.2,260.0 103.2,245.0 104.5,232.0 106.0,226.0 107.0,232.0 108.2,245.0 109.1,260.0 110.7,283.0 112.6,306.0 114.9,324.0 118.3,333.5 121.7,342.7 124.0,349.0" fill="none" stroke="#3a3a3a" stroke-width="1.3" stroke-linejoin="round" stroke-dasharray="5,3.3"/>
<text x="143.52" y="218.40" font-size="8.6" font-weight="bold" fill="#111" >Normal</text>
<text x="143.85" y="228.80" font-size="8.6" font-weight="bold" fill="#111" >Subject</text>
<text x="143.52" y="243.60" font-size="8.6" font-weight="bold" fill="#111" >MS</text>
<text x="143.52" y="253.90" font-size="8.6" font-weight="bold" fill="#111" >Patient</text>
<line x1="122.30" y1="220.40" x2="137.90" y2="220.40" stroke="#111" stroke-width="1.5" />
<line x1="115.40" y1="245.50" x2="124.35" y2="245.50" stroke="#222" stroke-width="1.5" />
<line x1="129.35" y1="245.50" x2="138.30" y2="245.50" stroke="#222" stroke-width="1.5" />
<text transform="translate(13.10,276.80) rotate(-90)" x="-30.92" y="0" font-size="12.3" font-weight="bold" fill="#111">Cell Count</text>
<line x1="243.50" y1="208.80" x2="243.50" y2="351.00" stroke="#222" stroke-width="1.3" />
<line x1="240.50" y1="351.00" x2="332.70" y2="351.00" stroke="#222" stroke-width="1.3" />
<line x1="240.50" y1="351.00" x2="243.50" y2="351.00" stroke="#222" stroke-width="1.1" />
<text x="221.48" y="354.40" font-size="9.8" font-weight="bold" fill="#111" >0.0</text>
<line x1="240.50" y1="322.66" x2="243.50" y2="322.66" stroke="#222" stroke-width="1.1" />
<text x="221.35" y="326.06" font-size="9.8" font-weight="bold" fill="#111" >0.5</text>
<line x1="240.50" y1="294.32" x2="243.50" y2="294.32" stroke="#222" stroke-width="1.1" />
<text x="221.48" y="297.72" font-size="9.8" font-weight="bold" fill="#111" >1.0</text>
<line x1="240.50" y1="265.98" x2="243.50" y2="265.98" stroke="#222" stroke-width="1.1" />
<text x="221.35" y="269.38" font-size="9.8" font-weight="bold" fill="#111" >1.5</text>
<line x1="240.50" y1="237.64" x2="243.50" y2="237.64" stroke="#222" stroke-width="1.1" />
<text x="221.48" y="241.04" font-size="9.8" font-weight="bold" fill="#111" >2.0</text>
<line x1="240.50" y1="209.30" x2="243.50" y2="209.30" stroke="#222" stroke-width="1.1" />
<text x="221.35" y="212.70" font-size="9.8" font-weight="bold" fill="#111" >2.5</text>
<rect x="267.45" y="295.75" width="11.90" height="55.25" fill="#fff" stroke="#111" stroke-width="1.3"/>
<rect x="295.40" y="249.70" width="15.10" height="101.30" fill="#000"/>
<line x1="273.60" y1="295.10" x2="273.60" y2="283.90" stroke="#222" stroke-width="1.3" />
<line x1="271.05" y1="283.90" x2="276.15" y2="283.90" stroke="#222" stroke-width="1.5" />
<line x1="303.00" y1="249.70" x2="303.00" y2="235.30" stroke="#222" stroke-width="1.3" />
<line x1="300.50" y1="235.30" x2="305.50" y2="235.30" stroke="#222" stroke-width="1.5" />
<line x1="273.30" y1="351.00" x2="273.30" y2="354.00" stroke="#222" stroke-width="1" />
<line x1="302.80" y1="351.00" x2="302.80" y2="354.00" stroke="#222" stroke-width="1" />
<text x="245.04" y="369.40" font-size="11.2" font-weight="bold" fill="#111" >Controls</text>
<text x="301.65" y="369.40" font-size="11.2" font-weight="bold" fill="#111" >MS</text>
<text x="263.62" y="222.20" font-size="11.7" font-weight="bold" fill="#111" >P=0.04</text>
<line x1="264.80" y1="228.00" x2="301.00" y2="228.00" stroke="#222" stroke-width="1.4" />
<text x="350.70" y="213.10" font-size="14.6" font-weight="bold" fill="#111" >d</text>
<line x1="384.90" y1="210.90" x2="532.30" y2="210.90" stroke="#777" stroke-width="1" />
<line x1="532.30" y1="210.90" x2="532.30" y2="354.40" stroke="#777" stroke-width="1" />
<line x1="388.40" y1="210.90" x2="388.40" y2="355.00" stroke="#222" stroke-width="1.2" />
<line x1="384.90" y1="354.40" x2="532.30" y2="354.40" stroke="#222" stroke-width="1.3" />
<line x1="384.90" y1="354.40" x2="388.40" y2="354.40" stroke="#222" stroke-width="1" />
<line x1="386.00" y1="347.22" x2="388.40" y2="347.22" stroke="#333" stroke-width="0.9" />
<line x1="386.00" y1="340.05" x2="388.40" y2="340.05" stroke="#333" stroke-width="0.9" />
<line x1="386.00" y1="332.88" x2="388.40" y2="332.88" stroke="#333" stroke-width="0.9" />
<line x1="384.90" y1="325.70" x2="388.40" y2="325.70" stroke="#222" stroke-width="1" />
<line x1="386.00" y1="318.52" x2="388.40" y2="318.52" stroke="#333" stroke-width="0.9" />
<line x1="386.00" y1="311.35" x2="388.40" y2="311.35" stroke="#333" stroke-width="0.9" />
<line x1="386.00" y1="304.17" x2="388.40" y2="304.17" stroke="#333" stroke-width="0.9" />
<line x1="384.90" y1="297.00" x2="388.40" y2="297.00" stroke="#222" stroke-width="1" />
<line x1="386.00" y1="289.82" x2="388.40" y2="289.82" stroke="#333" stroke-width="0.9" />
<line x1="386.00" y1="282.65" x2="388.40" y2="282.65" stroke="#333" stroke-width="0.9" />
<line x1="386.00" y1="275.48" x2="388.40" y2="275.48" stroke="#333" stroke-width="0.9" />
<line x1="384.90" y1="268.30" x2="388.40" y2="268.30" stroke="#222" stroke-width="1" />
<line x1="386.00" y1="261.12" x2="388.40" y2="261.12" stroke="#333" stroke-width="0.9" />
<line x1="386.00" y1="253.95" x2="388.40" y2="253.95" stroke="#333" stroke-width="0.9" />
<line x1="386.00" y1="246.77" x2="388.40" y2="246.77" stroke="#333" stroke-width="0.9" />
<line x1="384.90" y1="239.60" x2="388.40" y2="239.60" stroke="#222" stroke-width="1" />
<line x1="386.00" y1="232.43" x2="388.40" y2="232.43" stroke="#333" stroke-width="0.9" />
<line x1="386.00" y1="225.25" x2="388.40" y2="225.25" stroke="#333" stroke-width="0.9" />
<line x1="386.00" y1="218.07" x2="388.40" y2="218.07" stroke="#333" stroke-width="0.9" />
<line x1="384.90" y1="210.90" x2="388.40" y2="210.90" stroke="#222" stroke-width="1" />
<text x="374.53" y="358.30" font-size="9.8" font-weight="normal" fill="#222" stroke="#2a2a2a" stroke-width="0.3">0</text>
<text x="369.08" y="329.60" font-size="9.8" font-weight="normal" fill="#222" stroke="#2a2a2a" stroke-width="0.3">20</text>
<text x="369.08" y="300.90" font-size="9.8" font-weight="normal" fill="#222" stroke="#2a2a2a" stroke-width="0.3">40</text>
<text x="369.08" y="272.20" font-size="9.8" font-weight="normal" fill="#222" stroke="#2a2a2a" stroke-width="0.3">60</text>
<text x="369.08" y="243.50" font-size="9.8" font-weight="normal" fill="#222" stroke="#2a2a2a" stroke-width="0.3">80</text>
<text x="363.63" y="214.80" font-size="9.8" font-weight="normal" fill="#222" stroke="#2a2a2a" stroke-width="0.3">100</text>
<line x1="391.32" y1="354.40" x2="391.32" y2="356.70" stroke="#333" stroke-width="0.9" />
<line x1="394.14" y1="354.40" x2="394.14" y2="356.70" stroke="#333" stroke-width="0.9" />
<line x1="396.44" y1="354.40" x2="396.44" y2="356.70" stroke="#333" stroke-width="0.9" />
<line x1="398.39" y1="354.40" x2="398.39" y2="356.70" stroke="#333" stroke-width="0.9" />
<line x1="400.08" y1="354.40" x2="400.08" y2="356.70" stroke="#333" stroke-width="0.9" />
<line x1="401.57" y1="354.40" x2="401.57" y2="356.70" stroke="#333" stroke-width="0.9" />
<line x1="402.90" y1="354.40" x2="402.90" y2="357.90" stroke="#222" stroke-width="1" />
<line x1="411.66" y1="354.40" x2="411.66" y2="356.70" stroke="#333" stroke-width="0.9" />
<line x1="416.78" y1="354.40" x2="416.78" y2="356.70" stroke="#333" stroke-width="0.9" />
<line x1="420.42" y1="354.40" x2="420.42" y2="356.70" stroke="#333" stroke-width="0.9" />
<line x1="423.24" y1="354.40" x2="423.24" y2="356.70" stroke="#333" stroke-width="0.9" />
<line x1="425.54" y1="354.40" x2="425.54" y2="356.70" stroke="#333" stroke-width="0.9" />
<line x1="427.49" y1="354.40" x2="427.49" y2="356.70" stroke="#333" stroke-width="0.9" />
<line x1="429.18" y1="354.40" x2="429.18" y2="356.70" stroke="#333" stroke-width="0.9" />
<line x1="430.67" y1="354.40" x2="430.67" y2="356.70" stroke="#333" stroke-width="0.9" />
<line x1="432.00" y1="354.40" x2="432.00" y2="357.90" stroke="#222" stroke-width="1" />
<line x1="440.76" y1="354.40" x2="440.76" y2="356.70" stroke="#333" stroke-width="0.9" />
<line x1="445.88" y1="354.40" x2="445.88" y2="356.70" stroke="#333" stroke-width="0.9" />
<line x1="449.52" y1="354.40" x2="449.52" y2="356.70" stroke="#333" stroke-width="0.9" />
<line x1="452.34" y1="354.40" x2="452.34" y2="356.70" stroke="#333" stroke-width="0.9" />
<line x1="454.64" y1="354.40" x2="454.64" y2="356.70" stroke="#333" stroke-width="0.9" />
<line x1="456.59" y1="354.40" x2="456.59" y2="356.70" stroke="#333" stroke-width="0.9" />
<line x1="458.28" y1="354.40" x2="458.28" y2="356.70" stroke="#333" stroke-width="0.9" />
<line x1="459.77" y1="354.40" x2="459.77" y2="356.70" stroke="#333" stroke-width="0.9" />
<line x1="461.10" y1="354.40" x2="461.10" y2="357.90" stroke="#222" stroke-width="1" />
<line x1="469.86" y1="354.40" x2="469.86" y2="356.70" stroke="#333" stroke-width="0.9" />
<line x1="474.98" y1="354.40" x2="474.98" y2="356.70" stroke="#333" stroke-width="0.9" />
<line x1="478.62" y1="354.40" x2="478.62" y2="356.70" stroke="#333" stroke-width="0.9" />
<line x1="481.44" y1="354.40" x2="481.44" y2="356.70" stroke="#333" stroke-width="0.9" />
<line x1="483.74" y1="354.40" x2="483.74" y2="356.70" stroke="#333" stroke-width="0.9" />
<line x1="485.69" y1="354.40" x2="485.69" y2="356.70" stroke="#333" stroke-width="0.9" />
<line x1="487.38" y1="354.40" x2="487.38" y2="356.70" stroke="#333" stroke-width="0.9" />
<line x1="488.87" y1="354.40" x2="488.87" y2="356.70" stroke="#333" stroke-width="0.9" />
<line x1="490.20" y1="354.40" x2="490.20" y2="357.90" stroke="#222" stroke-width="1" />
<line x1="498.96" y1="354.40" x2="498.96" y2="356.70" stroke="#333" stroke-width="0.9" />
<line x1="504.08" y1="354.40" x2="504.08" y2="356.70" stroke="#333" stroke-width="0.9" />
<line x1="507.72" y1="354.40" x2="507.72" y2="356.70" stroke="#333" stroke-width="0.9" />
<line x1="510.54" y1="354.40" x2="510.54" y2="356.70" stroke="#333" stroke-width="0.9" />
<line x1="512.84" y1="354.40" x2="512.84" y2="356.70" stroke="#333" stroke-width="0.9" />
<line x1="514.79" y1="354.40" x2="514.79" y2="356.70" stroke="#333" stroke-width="0.9" />
<line x1="516.48" y1="354.40" x2="516.48" y2="356.70" stroke="#333" stroke-width="0.9" />
<line x1="517.97" y1="354.40" x2="517.97" y2="356.70" stroke="#333" stroke-width="0.9" />
<line x1="519.30" y1="354.40" x2="519.30" y2="357.90" stroke="#222" stroke-width="1" />
<line x1="528.06" y1="354.40" x2="528.06" y2="356.70" stroke="#333" stroke-width="0.9" />
<text x="396.22" y="371.80" font-size="9.2" font-weight="normal" fill="#2a2a2a" stroke="#2a2a2a" stroke-width="0.3">10</text>
<text x="406.73" y="368.30" font-size="6.9" font-weight="normal" fill="#2a2a2a" stroke="#2a2a2a" stroke-width="0.2">1</text>
<text x="425.32" y="371.80" font-size="9.2" font-weight="normal" fill="#2a2a2a" stroke="#2a2a2a" stroke-width="0.3">10</text>
<text x="436.15" y="368.30" font-size="6.9" font-weight="normal" fill="#2a2a2a" stroke="#2a2a2a" stroke-width="0.2">2</text>
<text x="454.42" y="371.80" font-size="9.2" font-weight="normal" fill="#2a2a2a" stroke="#2a2a2a" stroke-width="0.3">10</text>
<text x="465.33" y="368.30" font-size="6.9" font-weight="normal" fill="#2a2a2a" stroke="#2a2a2a" stroke-width="0.2">3</text>
<text x="483.52" y="371.80" font-size="9.2" font-weight="normal" fill="#2a2a2a" stroke="#2a2a2a" stroke-width="0.3">10</text>
<text x="494.54" y="368.30" font-size="6.9" font-weight="normal" fill="#2a2a2a" stroke="#2a2a2a" stroke-width="0.2">4</text>
<text x="512.62" y="371.80" font-size="9.2" font-weight="normal" fill="#2a2a2a" stroke="#2a2a2a" stroke-width="0.3">10</text>
<text x="523.52" y="368.30" font-size="6.9" font-weight="normal" fill="#2a2a2a" stroke="#2a2a2a" stroke-width="0.2">5</text>
<polyline points="393.7,354.4 397.3,335.7 398.7,333.6 403.7,324.3 408.0,314.3 410.1,300.0 411.4,290.0 414.5,281.0 416.5,257.8 419.6,248.6 422.0,242.0 423.5,248.0 425.0,245.0 427.8,254.7 429.3,270.0 430.5,300.0 432.9,312.0 434.6,322.0 437.3,340.0 441.8,354.4" fill="#f4f4f4" stroke="#8c8c8c" stroke-width="0.8" stroke-linejoin="round" />
<polyline points="403.7,354.4 408.7,349.3 413.7,341.4 418.7,334.3 423.0,330.0 427.1,313.6 430.2,295.7 432.9,277.9 434.2,264.9 435.9,244.5 437.3,236.3 440.4,228.6 442.0,236.3 443.5,260.8 445.4,290.0 447.1,308.0 448.6,322.0 450.7,340.0 454.3,354.4" fill="none" stroke="#666" stroke-width="1.0" stroke-linejoin="round" />
<polyline points="409.0,354.4 413.0,350.0 417.3,345.7 421.6,335.7 426.6,325.0 429.5,312.0 431.8,300.0 433.5,290.0 435.0,265.0 437.5,250.0 440.4,244.5 442.5,250.0 444.0,265.0 445.6,290.0 447.3,308.0 448.8,322.0 451.0,340.0 455.0,354.4" fill="none" stroke="#3a3a3a" stroke-width="1.3" stroke-linejoin="round" stroke-dasharray="5,3.3"/>
<text x="491.58" y="224.40" font-size="9.2" font-weight="bold" fill="#111" >Normal</text>
<text x="491.93" y="235.70" font-size="9.2" font-weight="bold" fill="#111" >Subject</text>
<text x="491.58" y="250.60" font-size="9.2" font-weight="bold" fill="#111" >MS</text>
<text x="491.58" y="261.40" font-size="9.2" font-weight="bold" fill="#111" >Patient</text>
<line x1="464.10" y1="230.20" x2="480.70" y2="230.20" stroke="#111" stroke-width="1.8" />
<line x1="463.00" y1="253.10" x2="472.25" y2="253.10" stroke="#222" stroke-width="1.5" />
<line x1="477.25" y1="253.10" x2="486.50" y2="253.10" stroke="#222" stroke-width="1.5" />
<text transform="translate(360.00,282.80) rotate(-90)" x="-30.92" y="0" font-size="12.3" font-weight="bold" fill="#111">Cell Count</text>
<line x1="594.00" y1="206.40" x2="594.00" y2="349.00" stroke="#222" stroke-width="1.3" />
<line x1="591.00" y1="349.00" x2="683.50" y2="349.00" stroke="#222" stroke-width="1.3" />
<line x1="591.00" y1="349.00" x2="594.00" y2="349.00" stroke="#222" stroke-width="1.1" />
<text x="571.54" y="352.40" font-size="10.2" font-weight="bold" fill="#111" >0.0</text>
<line x1="591.00" y1="320.58" x2="594.00" y2="320.58" stroke="#222" stroke-width="1.1" />
<text x="571.40" y="323.98" font-size="10.2" font-weight="bold" fill="#111" >0.5</text>
<line x1="591.00" y1="292.16" x2="594.00" y2="292.16" stroke="#222" stroke-width="1.1" />
<text x="571.54" y="295.56" font-size="10.2" font-weight="bold" fill="#111" >1.0</text>
<line x1="591.00" y1="263.74" x2="594.00" y2="263.74" stroke="#222" stroke-width="1.1" />
<text x="571.40" y="267.14" font-size="10.2" font-weight="bold" fill="#111" >1.5</text>
<line x1="591.00" y1="235.32" x2="594.00" y2="235.32" stroke="#222" stroke-width="1.1" />
<text x="571.54" y="238.72" font-size="10.2" font-weight="bold" fill="#111" >2.0</text>
<line x1="591.00" y1="206.90" x2="594.00" y2="206.90" stroke="#222" stroke-width="1.1" />
<text x="571.40" y="210.30" font-size="10.2" font-weight="bold" fill="#111" >2.5</text>
<rect x="617.85" y="293.65" width="12.50" height="55.35" fill="#fff" stroke="#111" stroke-width="1.3"/>
<rect x="646.20" y="296.60" width="14.80" height="52.40" fill="#000"/>
<line x1="624.30" y1="293.00" x2="624.30" y2="280.20" stroke="#222" stroke-width="1.3" />
<line x1="621.10" y1="280.20" x2="627.50" y2="280.20" stroke="#222" stroke-width="1.5" />
<line x1="653.80" y1="296.60" x2="653.80" y2="289.50" stroke="#222" stroke-width="1.3" />
<line x1="650.75" y1="289.50" x2="656.85" y2="289.50" stroke="#222" stroke-width="1.5" />
<line x1="624.00" y1="349.00" x2="624.00" y2="352.00" stroke="#222" stroke-width="1" />
<line x1="653.40" y1="349.00" x2="653.40" y2="352.00" stroke="#222" stroke-width="1" />
<text x="593.83" y="365.90" font-size="11.4" font-weight="bold" fill="#111" >Controls</text>
<text x="653.64" y="365.90" font-size="11.4" font-weight="bold" fill="#111" >MS</text>
<text transform="translate(54.86,383.50)" font-family="Liberation Sans" font-size="12.6" font-weight="bold" fill="#111">Integrin</text>
<text transform="translate(105.24,383.50) scale(1.450,1)" font-family="Liberation Sans" font-size="9.2" font-weight="normal" fill="#111" stroke="#111" stroke-width="0.35">α</text>
<text transform="translate(113.79,386.60) scale(1.100,1)" font-family="Liberation Sans" font-size="11.0" font-weight="bold" fill="#111">M</text>
<text transform="translate(124.77,383.50)" font-family="Liberation Sans" font-size="10.5" font-weight="normal" fill="#111" stroke="#111" stroke-width="0.35">β</text>
<text transform="translate(132.05,386.50) scale(1.170,1)" font-family="Liberation Sans" font-size="9.4" font-weight="normal" fill="#111" stroke="#111" stroke-width="0.35">2</text>
<text transform="translate(141.91,383.50)" font-family="Liberation Sans" font-size="12.6" font-weight="bold" fill="#111">- PE</text>
<text transform="translate(401.46,386.50)" font-family="Liberation Sans" font-size="12.6" font-weight="bold" fill="#111">Integrin</text>
<text transform="translate(451.99,386.50) scale(1.460,1)" font-family="Liberation Sans" font-size="10.0" font-weight="normal" fill="#111" stroke="#111" stroke-width="0.35">α</text>
<text transform="translate(460.68,389.10)" font-family="Liberation Sans" font-size="5.2" font-weight="normal" fill="#111" stroke="#111" stroke-width="0.35">4</text>
<text transform="translate(464.42,386.50)" font-family="Liberation Sans" font-size="11.2" font-weight="normal" fill="#111" stroke="#111" stroke-width="0.35">β</text>
<text transform="translate(473.32,389.80)" font-family="Liberation Sans" font-size="6.0" font-weight="normal" fill="#111" stroke="#111" stroke-width="0.35">1</text>
<text transform="translate(480.12,386.50)" font-family="Liberation Sans" font-size="12.2" font-weight="bold" fill="#111">- APC</text>
<text transform="translate(211.20,342.09) rotate(-90)" font-family="Liberation Sans" font-size="11.8" font-weight="bold" fill="#111">Integrin</text>
<text transform="translate(211.20,296.52) rotate(-90) scale(1.450,1)" font-family="Liberation Sans" font-size="8.6" font-weight="normal" fill="#111" stroke="#111" stroke-width="0.25">α</text>
<text transform="translate(214.20,289.25) rotate(-90) scale(1.080,1)" font-family="Liberation Sans" font-size="10.4" font-weight="bold" fill="#111">M</text>
<text transform="translate(211.20,280.15) rotate(-90) scale(1.120,1)" font-family="Liberation Sans" font-size="9.6" font-weight="normal" fill="#111" stroke="#111" stroke-width="0.25">β</text>
<text transform="translate(214.20,271.54) rotate(-90) scale(1.350,1)" font-family="Liberation Sans" font-size="8.0" font-weight="normal" fill="#111" stroke="#111" stroke-width="0.25">2</text>
<text transform="translate(211.20,262.15) rotate(-90)" font-family="Liberation Sans" font-size="11.0" font-weight="bold" fill="#111">(CD11b)</text>
<text transform="translate(560.50,335.49) rotate(-90)" font-family="Liberation Sans" font-size="11.8" font-weight="bold" fill="#111">Integrin</text>
<text transform="translate(560.50,290.17) rotate(-90) scale(1.450,1)" font-family="Liberation Sans" font-size="9.4" font-weight="normal" fill="#111" stroke="#111" stroke-width="0.25">α</text>
<text transform="translate(562.90,281.71) rotate(-90)" font-family="Liberation Sans" font-size="5.0" font-weight="normal" fill="#111" stroke="#111" stroke-width="0.25">4</text>
<text transform="translate(560.50,279.02) rotate(-90) scale(1.100,1)" font-family="Liberation Sans" font-size="9.4" font-weight="normal" fill="#111" stroke="#111" stroke-width="0.25">β</text>
<text transform="translate(563.30,271.14) rotate(-90)" font-family="Liberation Sans" font-size="5.6" font-weight="normal" fill="#111" stroke="#111" stroke-width="0.25">1</text>
<text transform="translate(560.50,266.39) rotate(-90)" font-family="Liberation Sans" font-size="11.8" font-weight="bold" fill="#111">(VLA-4)</text>
</svg>
</body></html>
